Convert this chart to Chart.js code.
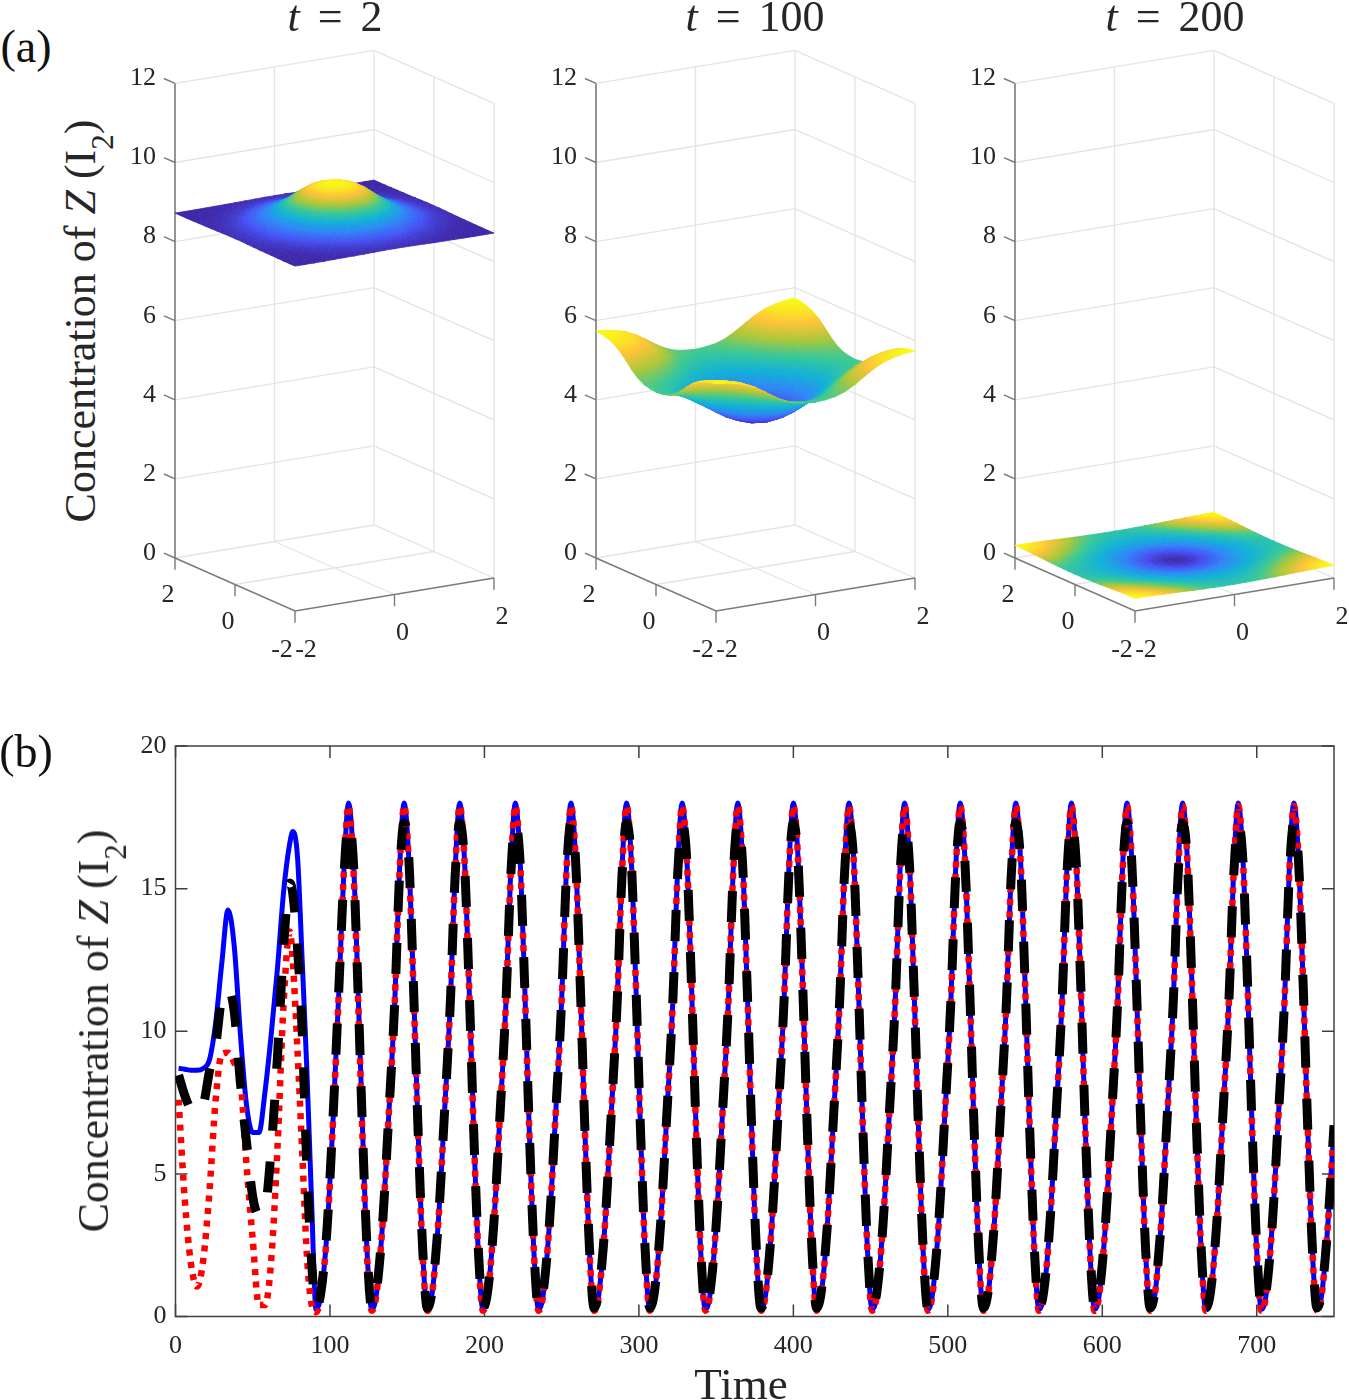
<!DOCTYPE html>
<html lang="en">
<head>
<meta charset="UTF-8">
<title>Concentration of Z (I2)</title>
<script src="https://cdn.jsdelivr.net/npm/chart.js"></script>
<style>
  html, body { margin: 0; padding: 0; background: #fff; }
  #page { position: relative; width: 1349px; height: 1400px; overflow: hidden; font-family: "Liberation Serif", serif; color: #262626; }
  canvas { position: absolute; }
  .txt { position: absolute; white-space: nowrap; transform: translate(-50%, -50%); line-height: 1; }
  .ylab { font-size: 44px; transform: translate(-50%, -50%) rotate(-90deg); }
  .ylab sub { font-size: 31px; line-height: 0; vertical-align: -0.58em; }
  .title { font-size: 44px; word-spacing: 7px; }
  .tag { font-size: 46px; color: #111; }
  .xlab { font-size: 45px; }
</style>
</head>
<body>
<div id="page">
  <canvas id="surf0" width="410" height="690" style="left:125px;top:0"></canvas>
  <canvas id="surf1" width="410" height="690" style="left:546px;top:0"></canvas>
  <canvas id="surf2" width="410" height="690" style="left:965px;top:0"></canvas>
  <canvas id="lines" width="1349" height="700" style="left:0;top:700px"></canvas>
  <div class="txt tag" style="left:26px;top:47px">(a)</div>
  <div class="txt tag" style="left:26px;top:752px">(b)</div>
  <div class="txt title" style="left:335px;top:17px"><i>t</i> = 2</div>
  <div class="txt title" style="left:755px;top:17px"><i>t</i> = 100</div>
  <div class="txt title" style="left:1175px;top:17px"><i>t</i> = 200</div>
  <div class="txt ylab" style="left:81px;top:321px">Concentration of <i>Z</i> (I<sub>2</sub>)</div>
  <div class="txt ylab" style="left:94px;top:1031px">Concentration of <i>Z</i> (I<sub>2</sub>)</div>
  <div class="txt xlab" style="left:741px;top:1384px">Time</div>
</div>
<script>
// surfaces: one quadrant, centre (0,0) to corner (2,2), step 0.2
const surfT2 = [
  [9.75,9.73,9.66,9.51,9.30,9.13,8.98,8.89,8.82,8.77,8.745],
  [9.73,9.71,9.63,9.48,9.28,9.11,8.97,8.89,8.82,8.77,8.745],
  [9.66,9.63,9.54,9.39,9.22,9.06,8.95,8.88,8.81,8.765,8.74],
  [9.51,9.48,9.39,9.25,9.13,9.00,8.92,8.85,8.795,8.76,8.735],
  [9.30,9.28,9.22,9.13,9.02,8.94,8.88,8.82,8.77,8.75,8.73],
  [9.13,9.11,9.06,9.00,8.94,8.89,8.835,8.79,8.76,8.74,8.728],
  [8.98,8.97,8.95,8.92,8.88,8.835,8.795,8.765,8.745,8.73,8.725],
  [8.89,8.89,8.88,8.85,8.82,8.79,8.765,8.75,8.73,8.725,8.722],
  [8.82,8.82,8.81,8.795,8.77,8.76,8.745,8.73,8.725,8.722,8.721],
  [8.77,8.77,8.765,8.76,8.75,8.74,8.73,8.725,8.722,8.721,8.72],
  [8.745,8.745,8.74,8.735,8.73,8.728,8.725,8.722,8.721,8.72,8.72]
];
const surfT100 = [
  [3.72,3.75,3.83,3.95,4.11,4.28,4.44,4.60,4.72,4.82,4.86],
  [3.75,3.78,3.86,3.98,4.14,4.31,4.47,4.63,4.75,4.84,4.88],
  [3.83,3.86,3.94,4.06,4.22,4.39,4.55,4.70,4.82,4.89,4.92],
  [3.95,3.98,4.06,4.18,4.34,4.51,4.67,4.81,4.92,4.99,5.01],
  [4.11,4.14,4.22,4.34,4.50,4.67,4.83,4.97,5.07,5.13,5.15],
  [4.28,4.31,4.39,4.51,4.67,4.84,5.00,5.14,5.24,5.30,5.32],
  [4.44,4.47,4.55,4.67,4.83,5.00,5.16,5.30,5.40,5.46,5.48],
  [4.60,4.63,4.70,4.81,4.97,5.14,5.30,5.44,5.53,5.58,5.60],
  [4.72,4.75,4.82,4.92,5.07,5.24,5.40,5.53,5.60,5.65,5.67],
  [4.82,4.84,4.89,4.99,5.13,5.30,5.46,5.58,5.65,5.70,5.72],
  [4.86,4.88,4.92,5.01,5.15,5.32,5.48,5.60,5.67,5.72,5.74]
];
const surfT200 = [
  [.200,.204,.210,.218,.226,.235,.243,.249,.254,.258,.260],
  [.204,.206,.212,.219,.227,.236,.244,.250,.255,.259,.261],
  [.210,.212,.217,.223,.230,.238,.246,.252,.257,.262,.265],
  [.218,.219,.223,.229,.235,.242,.250,.256,.262,.267,.270],
  [.226,.227,.230,.235,.241,.247,.254,.261,.268,.274,.277],
  [.235,.236,.238,.242,.247,.254,.261,.268,.276,.283,.286],
  [.243,.244,.246,.250,.254,.261,.270,.277,.285,.292,.296],
  [.249,.250,.252,.256,.261,.268,.277,.284,.292,.299,.304],
  [.254,.255,.257,.262,.268,.276,.285,.292,.301,.308,.312],
  [.258,.259,.262,.267,.274,.283,.292,.299,.308,.314,.318],
  [.260,.261,.265,.270,.277,.286,.296,.304,.312,.318,.320]
];
const zTicks = [0, 2, 4, 6, 8, 10, 12];

// panel (b)
const times = [
  2,6,10,14,18,22,26,30,34,38,42,46,50,54,58,62,66,70,74,
  76,79,82,85,88,91,94,98,102,106,109,
  112,115,118,121,124,127,130,134,138,142,145,
  148,151,154,157,160,163,166,170,174,178,181,
  184,187,190,193,196,199,202,206,210,214,217,
  220,223,226,229,232,235,238,242,246,250,253,
  256,259,262,265,268,271,274,278,282,286,289,
  292,295,298,301,304,307,310,314,318,322,325,
  328,331,334,337,340,343,346,350,354,358,361,
  364,367,370,373,376,379,382,386,390,394,397,
  400,403,406,409,412,415,418,422,426,430,433,
  436,439,442,445,448,451,454,458,462,466,469,
  472,475,478,481,484,487,490,494,498,502,505,
  508,511,514,517,520,523,526,530,534,538,541,
  544,547,550,553,556,559,562,566,570,574,577,
  580,583,586,589,592,595,598,602,606,610,613,
  616,619,622,625,628,631,634,638,642,646,649,
  652,655,658,661,664,667,670,674,678,682,685,
  688,691,694,697,700,703,706,710,714,718,721,
  724,727,730,733,736,739,742,746,750
];
const blueZ = [
  8.7,8.67,8.63,8.63,8.7,9.0,10.3,12.4,14.25,13.0,9.9,7.4,6.45,6.45,7.9,9.9,12.2,14.9,16.6,
  17.0,16.1,12.5,8.7,4.2,.25,.7,2.9,6.9,11.7,15.6,
  18.0,16.2,11.8,6.7,2.3,.25,.75,3.2,7.0,11.1,15.6,
  18.0,16.1,11.7,6.6,2.3,.25,.75,3.2,7.0,11.1,15.6,
  18.0,16.1,11.7,6.6,2.3,.25,.75,3.2,7.0,11.1,15.6,
  18.0,16.1,11.7,6.6,2.3,.25,.75,3.2,7.0,11.1,15.6,
  18.0,16.1,11.7,6.6,2.3,.25,.75,3.2,7.0,11.1,15.6,
  18.0,16.1,11.7,6.6,2.3,.25,.75,3.2,7.0,11.1,15.6,
  18.0,16.1,11.7,6.6,2.3,.25,.75,3.2,7.0,11.1,15.6,
  18.0,16.1,11.7,6.6,2.3,.25,.75,3.2,7.0,11.1,15.6,
  18.0,16.1,11.7,6.6,2.3,.25,.75,3.2,7.0,11.1,15.6,
  18.0,16.1,11.7,6.6,2.3,.25,.75,3.2,7.0,11.1,15.6,
  18.0,16.1,11.7,6.6,2.3,.25,.75,3.2,7.0,11.1,15.6,
  18.0,16.1,11.7,6.6,2.3,.25,.75,3.2,7.0,11.1,15.6,
  18.0,16.1,11.7,6.6,2.3,.25,.75,3.2,7.0,11.1,15.6,
  18.0,16.1,11.7,6.6,2.3,.25,.75,3.2,7.0,11.1,15.6,
  18.0,16.1,11.7,6.6,2.3,.25,.75,3.2,7.0,11.1,15.6,
  18.0,16.1,11.7,6.6,2.3,.25,.75,3.2,7.0,11.1,15.6,
  18.0,16.1,11.7,6.6,2.3,.25,.75,3.2,7.0,11.1,15.6,
  18.0,16.1,11.7,6.6,2.3,.25,.75,3.2,6.7
];
const redZ = [
  7.6,4.1,1.85,1.05,2.0,4.4,7.6,9.2,9.25,8.9,8.3,5.3,2.7,.4,.4,2.0,5.9,11.0,13.5,
  12.4,9.3,5.8,2.2,.45,.15,.7,2.9,6.9,11.7,15.6,
  17.9,15.9,11.5,6.4,2.1,.2,.75,3.2,7.0,11.1,15.5,
  17.9,16.0,11.6,6.5,2.2,.2,.75,3.2,7.0,11.1,15.5,
  17.9,16.1,11.7,6.6,2.3,.2,.75,3.2,7.0,11.1,15.5,
  17.9,16.1,11.7,6.6,2.3,.2,.75,3.2,7.0,11.1,15.5,
  17.9,16.1,11.7,6.6,2.3,.2,.75,3.2,7.0,11.1,15.5,
  17.9,16.1,11.7,6.6,2.3,.2,.75,3.2,7.0,11.1,15.5,
  17.9,16.1,11.7,6.6,2.3,.2,.75,3.2,7.0,11.1,15.5,
  17.9,16.1,11.7,6.6,2.3,.2,.75,3.2,7.0,11.1,15.5,
  17.9,16.1,11.7,6.6,2.3,.2,.75,3.2,7.0,11.1,15.5,
  17.9,16.1,11.7,6.6,2.3,.2,.75,3.2,7.0,11.1,15.5,
  17.9,16.1,11.7,6.6,2.3,.2,.75,3.2,7.0,11.1,15.5,
  17.9,16.1,11.7,6.6,2.3,.2,.75,3.2,7.0,11.1,15.5,
  17.9,16.1,11.7,6.6,2.3,.2,.75,3.2,7.0,11.1,15.5,
  17.9,16.1,11.7,6.6,2.3,.2,.75,3.2,7.0,11.1,15.5,
  17.9,16.1,11.7,6.6,2.3,.2,.75,3.2,7.0,11.1,15.5,
  17.9,16.1,11.7,6.6,2.3,.2,.75,3.2,7.0,11.1,15.5,
  17.9,16.1,11.7,6.6,2.3,.2,.75,3.2,7.0,11.1,15.5,
  17.9,16.1,11.7,6.6,2.3,.2,.75,3.2,6.7
];
const blackZ = [
  8.46,7.75,7.25,7.1,7.4,8.6,9.5,11.2,11.5,10.7,8.2,6.1,4.2,3.55,3.8,5.9,9.1,13.0,15.2,
  14.8,12.9,10.0,5.3,2.0,.3,.8,3.0,7.0,11.8,15.4,
  17.3,16.1,11.7,6.6,2.4,.3,.85,3.2,7.0,11.1,15.4,
  17.3,16.1,11.7,6.6,2.4,.3,.85,3.2,7.0,11.1,15.4,
  17.3,16.0,11.7,6.6,2.4,.3,.85,3.2,7.0,11.1,15.4,
  17.3,16.0,11.7,6.6,2.4,.3,.85,3.2,7.0,11.1,15.4,
  17.3,16.0,11.7,6.6,2.4,.3,.85,3.2,7.0,11.1,15.4,
  17.3,16.0,11.7,6.6,2.4,.3,.85,3.2,7.0,11.1,15.4,
  17.3,16.0,11.7,6.6,2.4,.3,.85,3.2,7.0,11.1,15.4,
  17.3,16.0,11.7,6.6,2.4,.3,.85,3.2,7.0,11.1,15.4,
  17.3,16.0,11.7,6.6,2.4,.3,.85,3.2,7.0,11.1,15.4,
  17.3,16.0,11.7,6.6,2.4,.3,.85,3.2,7.0,11.1,15.4,
  17.3,16.0,11.7,6.6,2.4,.3,.85,3.2,7.0,11.1,15.4,
  17.3,16.0,11.7,6.6,2.4,.3,.85,3.2,7.0,11.1,15.4,
  17.3,16.0,11.7,6.6,2.4,.3,.85,3.2,7.0,11.1,15.4,
  17.3,16.0,11.7,6.6,2.4,.3,.85,3.2,7.0,11.1,15.4,
  17.3,16.0,11.7,6.6,2.4,.3,.85,3.2,7.0,11.1,15.4,
  17.3,16.0,11.7,6.6,2.4,.3,.85,3.2,7.0,11.1,15.4,
  17.3,16.0,11.7,6.6,2.4,.3,.85,3.2,7.0,11.1,15.4,
  17.3,16.0,11.7,6.6,2.4,.3,.85,3.2,6.7
];

const parula = [
  [0,62,38,168],[.125,70,82,244],[.25,46,135,247],[.4,18,177,214],
  [.55,55,200,151],[.7,171,199,57],[.85,254,195,56],[1,249,251,21]
];
function parulaColor(t) {
  for (let i = 1; i < parula.length; i++) {
    if (t <= parula[i][0]) {
      const a = parula[i - 1], b = parula[i], f = (t - a[0]) / (b[0] - a[0]);
      return 'rgb(' + [1, 2, 3].map(k => Math.round(a[k] + (b[k] - a[k]) * f)).join(',') + ')';
    }
  }
  return 'rgb(249,251,21)';
}

// view of the 3d box, in canvas units of the panel
function project(x, y, z) {
  return {
    x: 170 + (x + 2) / 4 * 199 - (y + 2) / 4 * 120,
    y: 611 - (x + 2) / 4 * 33 - (y + 2) / 4 * 53 - z * 39.55
  };
}

function line3d(pts, color, width) {
  return {
    data: pts.map(p => project(p[0], p[1], p[2])),
    showLine: true, borderColor: color, borderWidth: width, pointRadius: 0, fill: false
  };
}

// linear gradient across one triangle, colours run through the colormap
function triangleFill(ctx, p, v) {
  const d1x = p[1].x - p[0].x, d1y = p[1].y - p[0].y, d2x = p[2].x - p[0].x, d2y = p[2].y - p[0].y;
  const dv1 = v[1] - v[0], dv2 = v[2] - v[0], det = d1x * d2y - d1y * d2x;
  const gx = (dv1 * d2y - dv2 * d1y) / det, gy = (dv2 * d1x - dv1 * d2x) / det, g2 = gx * gx + gy * gy;
  const lo = Math.min(...v), hi = Math.max(...v);
  if (Math.abs(det) < 0.3 || g2 < 1e-12 || hi - lo < 1e-4) return parulaColor((v[0] + v[1] + v[2]) / 3);
  const grad = ctx.createLinearGradient(
    p[0].x + (lo - v[0]) * gx / g2, p[0].y + (lo - v[0]) * gy / g2,
    p[0].x + (hi - v[0]) * gx / g2, p[0].y + (hi - v[0]) * gy / g2);
  grad.addColorStop(0, parulaColor(lo));
  parula.forEach(s => { if (s[0] > lo && s[0] < hi) grad.addColorStop((s[0] - lo) / (hi - lo), parulaColor(s[0])); });
  grad.addColorStop(1, parulaColor(hi));
  return grad;
}

function surfaceSets(ctx, quad) {
  const n = 21, sets = [];
  const cell = (i, j) => quad[Math.abs(i - 10)][Math.abs(j - 10)];
  const flat = quad.flat(), zMin = Math.min(...flat), zMax = Math.max(...flat);
  const pos = i => -2 + i * 0.2;
  const tri = (a, b, c) => {
    const pts = [a, b, c].map(q => project(pos(q[0]), pos(q[1]), cell(q[0], q[1])));
    const vals = [a, b, c].map(q => (cell(q[0], q[1]) - zMin) / (zMax - zMin));
    const f = triangleFill(ctx, pts, vals);
    sets.push({
      data: pts.concat([pts[0]]), showLine: true, fill: 'shape',
      backgroundColor: f, borderColor: f, borderWidth: 0.8, pointRadius: 0
    });
  };
  // far corner first so near cells paint over it
  for (let i = n - 2; i >= 0; i--) {
    for (let j = n - 2; j >= 0; j--) {
      if ((i < 10) === (j < 10)) {
        tri([i + 1, j + 1], [i + 1, j], [i, j + 1]);
        tri([i, j], [i + 1, j], [i, j + 1]);
      } else {
        tri([i + 1, j + 1], [i, j + 1], [i, j]);
        tri([i + 1, j], [i + 1, j + 1], [i, j]);
      }
    }
  }
  return sets;
}

function boxSets() {
  const sets = [], gridCol = '#e4e4e4', axisCol = '#7a7a7a';
  zTicks.forEach(z => sets.push(line3d([[-2, 2, z], [2, 2, z], [2, -2, z]], gridCol, 1.3)));
  [[0, 2], [2, 2], [2, 0], [2, -2]].forEach(p => sets.push(line3d([[p[0], p[1], 0], [p[0], p[1], 12]], gridCol, 1.3)));
  sets.push(line3d([[0, -2, 0], [0, 2, 0]], gridCol, 1.3));
  sets.push(line3d([[-2, 0, 0], [2, 0, 0]], gridCol, 1.3));
  sets.push(line3d([[-2, 2, 0], [-2, 2, 12]], axisCol, 1.6));
  sets.push(line3d([[-2, 2, 0], [-2, -2, 0], [2, -2, 0]], axisCol, 1.6));
  zTicks.forEach(z => sets.push(line3d([[-2, 2, z], [-2, 2.37, z]], axisCol, 1.4)));
  [2, 0, -2].forEach(y => sets.push(line3d([[-2, y, 0], [-2, y, -0.3]], axisCol, 1.4)));
  [0, 2].forEach(x => sets.push(line3d([[x, -2, 0], [x, -2, -0.3]], axisCol, 1.4)));
  return sets;
}

const boxLabels = {
  id: 'boxLabels',
  afterDraw(chart) {
    const ctx = chart.ctx, sx = chart.scales.x, sy = chart.scales.y;
    const put = (x, y, z, dx, dy, s, align) => {
      const p = project(x, y, z);
      ctx.textAlign = align;
      ctx.fillText(s, sx.getPixelForValue(p.x) + dx, sy.getPixelForValue(p.y) + dy);
    };
    ctx.save();
    ctx.font = '26px "Liberation Serif"';
    ctx.fillStyle = '#262626';
    ctx.textBaseline = 'middle';
    zTicks.forEach(z => put(-2, 2, z, -19, -5, String(z), 'right'));
    put(-2, 2, 0, -7, 37, '2', 'center');
    put(-2, 0, 0, -7, 38, '0', 'center');
    put(-2, -2, 0, -13, 39, '-2', 'center');
    put(-2, -2, 0, 11, 39, '-2', 'center');
    put(0, -2, 0, 8, 39, '0', 'center');
    put(2, -2, 0, 8, 39, '2', 'center');
    ctx.restore();
  }
};

[surfT2, surfT100, surfT200].forEach((quad, k) => {
  const canvas = document.getElementById('surf' + k);
  // chart.js paints the last dataset first
  const sets = boxSets().concat(surfaceSets(canvas.getContext('2d'), quad)).reverse();
  new Chart(canvas, {
    type: 'scatter',
    data: { datasets: sets },
    options: {
      responsive: false, animation: false, events: [],
      devicePixelRatio: 1,
      layout: { padding: 0 },
      plugins: { legend: { display: false }, tooltip: { enabled: false } },
      scales: {
        x: { type: 'linear', display: false, min: 0, max: 410 },
        y: { type: 'linear', display: false, min: 0, max: 690, reverse: true }
      }
    },
    plugins: [boxLabels]
  });
});

const toXY = vals => vals.map((v, i) => ({ x: times[i], y: v }));

// matlab style box with inward ticks
const boxTicks = {
  id: 'boxTicks',
  beforeDatasetsDraw(chart) {
    const ctx = chart.ctx, a = chart.chartArea, sx = chart.scales.x, sy = chart.scales.y;
    ctx.save();
    ctx.strokeStyle = '#404040';
    ctx.lineWidth = 1.5;
    ctx.strokeRect(a.left, a.top, a.right - a.left, a.bottom - a.top);
    ctx.beginPath();
    sx.ticks.forEach(t => {
      const p = sx.getPixelForValue(t.value);
      ctx.moveTo(p, a.bottom); ctx.lineTo(p, a.bottom - 12);
      ctx.moveTo(p, a.top); ctx.lineTo(p, a.top + 12);
    });
    sy.ticks.forEach(t => {
      const p = sy.getPixelForValue(t.value);
      ctx.moveTo(a.left, p); ctx.lineTo(a.left + 12, p);
      ctx.moveTo(a.right, p); ctx.lineTo(a.right - 12, p);
    });
    ctx.stroke();
    ctx.restore();
  }
};

new Chart(document.getElementById('lines'), {
  type: 'line',
  data: {
    datasets: [
      { label: 'black', data: toXY(blackZ), borderColor: '#000', borderWidth: 9, borderDash: [31, 31], pointRadius: 0, cubicInterpolationMode: 'monotone' },
      { label: 'red', data: toXY(redZ), borderColor: '#ff0000', borderWidth: 6.5, borderDash: [6, 6.5], pointRadius: 0, cubicInterpolationMode: 'monotone' },
      { label: 'blue', data: toXY(blueZ), borderColor: '#0000ff', borderWidth: 5, pointRadius: 0, cubicInterpolationMode: 'monotone' }
    ]
  },
  options: {
    responsive: false, animation: false, events: [],
    devicePixelRatio: 1,
    layout: { padding: { left: 0, right: 15, top: 46, bottom: 0 } },
    plugins: { legend: { display: false }, tooltip: { enabled: false } },
    scales: {
      x: {
        type: 'linear', min: 0, max: 750,
        grid: { display: false, drawTicks: false }, border: { display: false },
        ticks: { stepSize: 100, includeBounds: false, maxRotation: 0, padding: 14, color: '#262626', font: { family: 'Liberation Serif', size: 26 } },
        afterFit: s => { s.height = 83.5; }
      },
      y: {
        min: 0, max: 20,
        grid: { display: false, drawTicks: false }, border: { display: false },
        ticks: { stepSize: 5, padding: 9, color: '#262626', font: { family: 'Liberation Serif', size: 26 } },
        afterFit: s => { s.width = 175.5; }
      }
    }
  },
  plugins: [boxTicks]
});
</script>
</body>
</html>
